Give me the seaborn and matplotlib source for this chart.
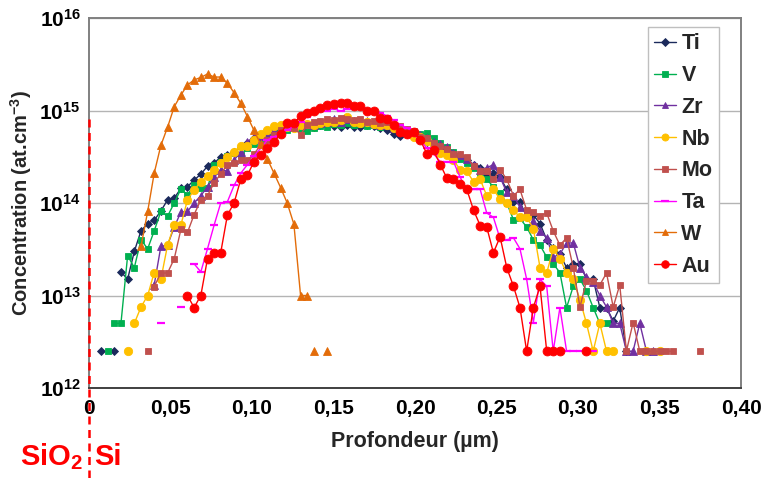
import math
import pandas as pd
import matplotlib
matplotlib.use("Agg")
import matplotlib.pyplot as plt
from matplotlib.lines import Line2D
from matplotlib.ticker import LogLocator, MultipleLocator, FixedLocator, FuncFormatter, NullFormatter
import seaborn as sns

N = None

# common SIMS depth grid (µm)
depth = [0.0074, 0.0115, 0.0156, 0.0196, 0.0237, 0.0278, 0.0319, 0.0360, 0.0400, 0.0441,
         0.0482, 0.0523, 0.0564, 0.0604, 0.0645, 0.0686, 0.0727, 0.0768, 0.0808, 0.0849,
         0.0890, 0.0931, 0.0972, 0.1012, 0.1053, 0.1094, 0.1135, 0.1176, 0.1216, 0.1257,
         0.1298, 0.1339, 0.1380, 0.1420, 0.1461, 0.1502, 0.1543, 0.1584, 0.1624, 0.1665,
         0.1706, 0.1747, 0.1788, 0.1828, 0.1869, 0.1910, 0.1951, 0.1992, 0.2032, 0.2073,
         0.2114, 0.2155, 0.2196, 0.2236, 0.2277, 0.2318, 0.2359, 0.2400, 0.2440, 0.2481,
         0.2522, 0.2563, 0.2604, 0.2644, 0.2685, 0.2726, 0.2767, 0.2808, 0.2848, 0.2889,
         0.2930, 0.2971, 0.3012, 0.3052, 0.3093, 0.3134, 0.3175, 0.3216, 0.3256, 0.3297,
         0.3338, 0.3379, 0.3420, 0.3460, 0.3501, 0.3542, 0.3583, 0.3624, 0.3664, 0.3705,
         0.3746]

ti = [N, N, N, 1.8e13, 1.5e13, 3.0e13, 5.0e13, 6.0e13, 6.5e13, 8.2e13,
      1.08e14, 1.13e14, 1.44e14, 1.5e14, 1.77e14, 2.05e14, 2.5e14, 2.7e14, 3.15e14, 3.3e14,
      3.6e14, 4.0e14, 4.5e14, 5.1e14, 5.5e14, 5.9e14, 6.2e14, 6.5e14, 6.6e14, 6.8e14,
      6.9e14, 7.0e14, 6.7e14, 7.0e14, 7.1e14, 6.8e14, 6.6e14, 6.9e14, 6.6e14, 6.6e14,
      7.0e14, 6.8e14, 6.5e14, 6.1e14, 5.6e14, 5.3e14, 5.6e14, 5.3e14, 5.0e14, 4.6e14,
      4.3e14, 4.0e14, 3.6e14, 3.4e14, 3.2e14, 2.9e14, 2.6e14, 2.4e14, 2.0e14, 2.1e14,
      1.9e14, 1.4e14, 1.03e14, 1.03e14, 7.1e13, 7.4e13, 6.0e13, 4.0e13, 3.3e13, 2.8e13,
      2.0e13, 2.2e13, 2.2e13, 1.5e13, 1.5e13, 7.4e12, 7.4e12, 5.3e12, 7.4e12, 2.5e12,
      N, N, N, N, N, N, N, N, N, N, N]

v = [N, N, 5e12, 5e12, 2.7e13, 2.0e13, 4.0e13, 3.2e13, 5.0e13, 8.1e13,
     7.2e13, 1.0e14, 1.42e14, 1.22e14, 1.57e14, 1.44e14, 1.46e14, 2.6e14, 2.8e14, 3.2e14,
     3.5e14, 3.3e14, 3.9e14, 4.3e14, 5.0e14, 5.4e14, 5.7e14, 5.8e14, 6.2e14, 6.5e14,
     6.3e14, 6.0e14, 6.4e14, 6.8e14, 6.6e14, 7.2e14, 7.0e14, 7.3e14, 6.9e14, 7.2e14,
     6.8e14, 7.0e14, 6.7e14, 7.0e14, 6.6e14, 6.2e14, 5.8e14, 5.9e14, 5.6e14, 5.7e14,
     5.0e14, 4.5e14, 4.0e14, 3.6e14, 3.0e14, 2.7e14, 2.4e14, 2.1e14, 1.8e14, 1.5e14,
     1.27e14, 1.0e14, 6.6e13, 6.8e13, 5.5e13, 4.0e13, 3.5e13, 2.6e13, 2.2e13, 1.77e13,
     7.4e12, 1.26e13, 1.5e13, 1.13e13, 7.4e12, 5e12, 5e12, N, N, N,
     N, N, N, N, N, N, N, N, N, N, N]

zr = [N, N, N, N, N, N, N, N, 1.3e13, 3.4e13,
      3.5e13, 5.5e13, 8.0e13, 8.1e13, 1.0e14, 1.2e14, 1.5e14, 1.9e14, 2.3e14, 2.2e14,
      2.9e14, 3.6e14, 4.6e14, 5.2e14, 5.3e14, 5.6e14, 6.0e14, 6.5e14, 6.8e14, 6.6e14,
      6.9e14, 7.2e14, 7.0e14, 7.4e14, 7.6e14, 8.0e14, 7.5e14, 8.0e14, 7.7e14, 7.5e14,
      7.7e14, 7.4e14, 7.0e14, 6.9e14, 6.5e14, 6.2e14, 5.9e14, 5.7e14, 5.4e14, 5.0e14,
      4.6e14, 4.3e14, 4.0e14, 3.5e14, 3.3e14, 3.0e14, 2.6e14, 2.3e14, 2.4e14, 2.6e14,
      1.9e14, 1.3e14, 1.2e14, 9.0e13, 8.0e13, 6.4e13, 5.0e13, 4.2e13, 2.6e13, 2.8e13,
      3.7e13, 3.7e13, 2.0e13, 1.6e13, 1.4e13, 1.0e13, 7.5e12, 5e12, 5e12, 2.5e12,
      2.5e12, 5e12, 2.5e12, 2.5e12, N, N, N, N, N, N, N]

nb = [N, N, N, N, N, 5e12, 7.5e12, 1.0e13, 1.77e13, 1.5e13,
      3.5e13, 5.8e13, 5.8e13, 1.08e14, 1.38e14, 1.7e14, 1.95e14, 2.3e14, 2.7e14, 3.16e14,
      3.6e14, 4.1e14, 4.1e14, 4.8e14, 5.6e14, 6.2e14, 6.8e14, 7.0e14, 6.6e14, 6.4e14,
      6.9e14, 7.2e14, 7.0e14, 7.3e14, 7.6e14, 7.5e14, 7.8e14, 8.5e14, 7.6e14, 7.3e14,
      7.5e14, 7.1e14, 6.9e14, 7.0e14, 6.4e14, 6.3e14, 6.0e14, 5.2e14, 5.2e14, 4.7e14,
      4.0e14, 3.5e14, 3.3e14, 2.9e14, 2.3e14, 2.2e14, 1.7e14, 1.8e14, 1.2e14, 1.4e14,
      1.1e14, 1.0e14, 8.4e13, 7.0e13, 7.0e13, 5.3e13, 2.0e13, 1.75e13, 3.2e13, 2.5e13,
      1.75e13, 1.5e13, 9e12, 5e12, 2.5e12, 5e12, 2.5e12, 2.5e12, N, N,
      N, N, N, N, N, N, N, N, N, N, N]

mo = [N, N, N, N, N, N, N, N, 1.25e13, 1.75e13,
      1.75e13, 2.5e13, 5.2e13, 4.8e13, 7.5e13, 1.08e14, 1.2e14, 1.66e14, 2.06e14, 2.6e14,
      2.7e14, 2.9e14, 2.9e14, 3.4e14, 4.2e14, 4.8e14, 5.4e14, 6.2e14, 6.6e14, 6.5e14,
      5.5e14, 7.0e14, 7.5e14, 7.7e14, 8.0e14, 7.8e14, 8.2e14, 8.0e14, 7.8e14, 8.0e14,
      7.6e14, 7.7e14, 7.3e14, 7.5e14, 7.0e14, 6.8e14, 6.3e14, 6.0e14, 5.2e14, 5.1e14,
      4.4e14, 4.1e14, 3.8e14, 3.4e14, 3.4e14, 3.16e14, 2.5e14, 2.2e14, 2.2e14, 1.8e14,
      2.3e14, 1.8e14, 1.2e14, 1.4e14, 8.4e13, 7.9e13, 7.3e13, 7.8e13, 5.0e13, 3.5e13,
      4.2e13, 2.0e13, 7.5e12, 1.45e13, 1.45e13, 1.3e13, 1.75e13, 7.5e12, 1.3e13, 2.5e12,
      5.1e12, 2.5e12, 2.5e12, 2.5e12, 2.5e12, 2.5e12, 2.5e12, N, N, N, N]

ta = [N, N, N, N, N, N, N, N, N, N,
      N, N, N, N, 2.2e13, 1.8e13, 3.2e13, 5.8e13, 1.0e14, 1.03e14,
      1.55e14, 2.1e14, 2.6e14, 3.2e14, 3.9e14, 4.8e14, 5.2e14, 5.6e14, 6.2e14, 6.7e14,
      7.6e14, 8.6e14, 9.7e14, 1.0e15, 1.0e15, 1.05e15, 9.8e14, 1.05e15, 1.07e15, 1.07e15,
      1.05e15, 1.0e15, 9.5e14, 8.7e14, 7.8e14, 7.0e14, 6.5e14, 5.5e14, 4.8e14, 3.9e14,
      3.4e14, 2.8e14, 2.8e14, 2.8e14, 1.9e14, 1.4e14, 1.4e14, 1.4e14, 7.8e13, 7.0e13,
      4.1e13, 4.0e13, 4.2e13, 3.2e13, 1.5e13, 5.1e12, 1.5e13, 1.26e13, 2.5e12, 7.4e12,
      2.5e12, 2.5e12, 2.5e12, 2.5e12, 2.5e12, N, N, N, N, N,
      N, N, N, N, N, N, N, N, N, N, N]

w = [N, N, N, N, N, N, 3.4e13, 8.1e13, 2.1e14, 4.2e14,
     6.6e14, 1.1e15, 1.47e15, 1.89e15, 2.14e15, 2.28e15, 2.48e15, 2.3e15, 2.3e15, 1.97e15,
     1.56e15, 1.2e15, 8.6e14, 6.1e14, 4.3e14, 3.0e14, 2.1e14, 1.46e14, 1.0e14, 5.9e13,
     1.0e13, 1.0e13, N, N, N, N, N, N, N, N,
     N, N, N, N, N, N, N, N, N, N,
     N, N, N, N, N, N, N, N, N, N,
     N, N, N, N, N, N, N, N, N, N,
     N, N, N, N, N, N, N, N, N, N,
     N, N, N, N, N, N, N, N, N, N, N]

au = [N, N, N, N, N, N, N, N, N, N,
      N, N, N, 1.0e13, 7.4e12, 1.0e13, 2.5e13, 2.9e13, 2.9e13, 7.4e13,
      1.0e14, 1.8e14, 2.0e14, 2.8e14, 3.3e14, 3.9e14, 4.6e14, 5.6e14, 7.3e14, 7.3e14,
      8.7e14, 9.3e14, 1.0e15, 1.06e15, 1.15e15, 1.17e15, 1.2e15, 1.2e15, 1.12e15, 1.12e15,
      1.0e15, 9.8e14, 8.2e14, 8.0e14, 7.0e14, 5.9e14, 5.6e14, 5.9e14, 4.8e14, 3.4e14,
      3.7e14, 2.6e14, 1.85e14, 1.8e14, 1.6e14, 1.4e14, 8.4e13, 5.7e13, 5.5e13, 2.9e13,
      4.3e13, 2.0e13, 1.26e13, 7.4e12, 2.5e12, 7.4e12, 1.26e13, 2.5e12, 2.5e12, 2.5e12,
      N, N, N, N, N, N, N, N, N, N,
      N, N, N, N, N, N, N, N, N, N, N]

# lone points near detection limit (not joined to the profiles)
ti_iso = ([0.0074, 0.0156], [2.5e12, 2.5e12])
v_iso = ([0.0115], [2.5e12])
nb_iso = ([0.0237, 0.3420, 0.3501], [2.5e12, 2.5e12, 2.5e12])
mo_iso = ([0.0360, 0.3746], [2.5e12, 2.5e12])
ta_iso = ([0.0441, 0.0564], [5e12, 7.5e12])
w_iso = ([0.1380, 0.1461], [2.5e12, 2.5e12])
au_iso = ([0.3052], [2.5e12])

names = ["Ti", "V", "Zr", "Nb", "Mo", "Ta", "W", "Au"]
colors = ["#1B2A5C", "#00B050", "#7030A0", "#FFC000", "#C0504D", "#FF00FF", "#E36C09", "#FF0000"]
markers = ["D", "s", "^", "o", "s", "_", "^", "o"]
msizes = [4.4, 4.6, 5.8, 6.0, 5.0, 6.0, 5.2, 6.4]
profiles = [ti, v, zr, nb, mo, ta, w, au]
lone = [ti_iso, v_iso, None, nb_iso, mo_iso, ta_iso, w_iso, au_iso]

sns.set_style("white")
plt.rcParams['font.family'] = ['Liberation Sans', 'DejaVu Sans']
plt.rcParams['mathtext.fontset'] = 'custom'
plt.rcParams['mathtext.rm'] = 'Liberation Sans'
plt.rcParams['mathtext.bf'] = 'Liberation Sans:bold'


def to_segments(conc):
    rows = []
    seg = 0
    for d, c in zip(depth, conc):
        if c is None:
            seg += 1
            continue
        rows.append((d, c, seg))
    return pd.DataFrame(rows, columns=["depth", "conc", "seg"])


fig = plt.figure(figsize=(7.64, 4.78), dpi=100)
ax = fig.add_axes([89 / 764, 1 - 388 / 478, 652 / 764, 370 / 478])
ax.set_yscale("log")

for name, conc, col, mk, ms, iso in zip(names, profiles, colors, markers, msizes, lone):
    mew = 1.6 if mk == "_" else 0.6
    df = to_segments(conc)
    sns.lineplot(data=df, x="depth", y="conc", units="seg", estimator=None, sort=False,
                 color=col, marker=mk, markersize=ms, markeredgecolor=col,
                 markeredgewidth=mew, linewidth=1.0, ax=ax)
    if iso is not None:
        ax.plot(iso[0], iso[1], linestyle="none", marker=mk, markersize=ms,
                color=col, markeredgecolor=col, markeredgewidth=mew)

ax.set_xlim(0, 0.40)
ax.set_ylim(1e12, 1e16)

ax.yaxis.set_major_locator(FixedLocator([1e12, 1e13, 1e14, 1e15, 1e16]))
ax.yaxis.set_major_formatter(FuncFormatter(
    lambda val, pos: r"$\mathbf{10^{%d}}$" % round(math.log10(val))))
ax.yaxis.set_minor_locator(LogLocator(base=10, subs=range(2, 10)))
ax.yaxis.set_minor_formatter(NullFormatter())
ax.xaxis.set_major_locator(MultipleLocator(0.05))
ax.xaxis.set_minor_locator(MultipleLocator(0.01))
ax.xaxis.set_major_formatter(FuncFormatter(
    lambda val, pos: "0" if abs(val) < 1e-9 else ("%.2f" % val).replace(".", ",")))

ax.tick_params(axis="both", which="both", direction="in", colors="#808080",
               labelcolor="black", labelsize=15)
ax.tick_params(axis="both", which="major", length=5, width=1)
ax.tick_params(axis="both", which="minor", length=4, width=1)
ax.tick_params(axis="y", which="major", length=0, pad=6)
ax.tick_params(axis="x", which="major", pad=8)
for lab in ax.get_xticklabels():
    lab.set_fontweight("bold")

ax.grid(axis="y", which="major", color="#B4B4B4", linewidth=1)
ax.grid(axis="x", visible=False)
for side in ["top", "right", "left", "bottom"]:
    ax.spines[side].set_color("#808080")
    ax.spines[side].set_linewidth(1.4)
ax.spines["bottom"].set_color("#404040")

ax.set_xlabel("Profondeur (µm)", fontsize=15.5, fontweight="bold")
ax.set_ylabel(r"Concentration (at.cm$^{\mathbf{-3}}$)", fontsize=14.5, fontweight="bold")
ax.xaxis.set_label_coords(0.5, -0.115)
ax.yaxis.set_label_coords(-0.084, 0.5)

handles = [Line2D([], [], color=c, marker=m, markersize=s * 0.85, markeredgecolor=c,
                  markeredgewidth=(1.6 if m == "_" else 0.6), linewidth=1.0)
           for c, m, s in zip(colors, markers, msizes)]
leg = ax.legend(handles, names, loc="upper right", bbox_to_anchor=(0.966, 0.976),
                borderaxespad=0, prop={"weight": "bold", "size": 15.5}, frameon=True,
                fancybox=False, edgecolor="#BFBFBF", framealpha=1, handlelength=1.0,
                handletextpad=0.25, labelspacing=0.5, borderpad=0.3)
leg.get_frame().set_linewidth(1.0)

# SiO2 / Si interface marker
ax.plot([0, 0], [-0.243, 0.738], transform=ax.transAxes, clip_on=False,
        color="red", linewidth=1.8, linestyle=(0, (3.2, 2.2)), zorder=10)
ax.text(-0.009, -0.186, r"SiO$_\mathbf{2}$", transform=ax.transAxes, ha="right",
        va="center", color="red", fontsize=21, fontweight="bold")
ax.text(0.008, -0.186, "Si", transform=ax.transAxes, ha="left",
        va="center", color="red", fontsize=21, fontweight="bold")

fig.savefig("out.png", dpi=100)
